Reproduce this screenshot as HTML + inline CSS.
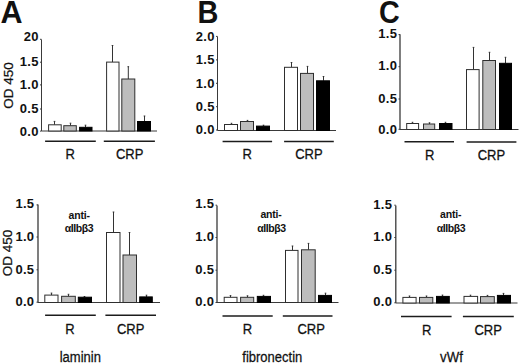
<!DOCTYPE html><html><head><meta charset="utf-8"><style>html,body{margin:0;padding:0;background:#fff;}svg{display:block;}text{font-family:"Liberation Sans", sans-serif;fill:#111;}</style></head><body>
<svg width="520" height="364" viewBox="0 0 520 364">
<rect x="0" y="0" width="520" height="364" fill="#fff"/>
<text x="0.60" y="23.40" font-size="30.5" font-weight="bold" text-anchor="start" >A</text>
<text x="0" y="0" font-size="30.5" font-weight="bold" text-anchor="start"  transform="translate(197.40,23.30) scale(0.95,1.0)">B</text>
<text x="0" y="0" font-size="30.5" font-weight="bold" text-anchor="start"  transform="translate(378.90,23.20) scale(0.94,1.0)">C</text>
<text x="0" y="0" font-size="13.5" text-anchor="middle" stroke="#111" stroke-width="0.25" transform="translate(13.3,85.4) rotate(-90)">OD 450</text>
<text x="0" y="0" font-size="13.5" text-anchor="middle" stroke="#111" stroke-width="0.25" transform="translate(12.1,253.1) rotate(-90)">OD 450</text>
<line x1="41.50" y1="39.50" x2="41.50" y2="131.00" stroke="#3a3a3a" stroke-width="1.0"/>
<line x1="41.50" y1="131.00" x2="157.00" y2="131.00" stroke="#3a3a3a" stroke-width="1"/>
<line x1="40.00" y1="39.30" x2="41.50" y2="39.30" stroke="#3a3a3a" stroke-width="1"/>
<text x="0" y="0" font-size="13" font-weight="bold" text-anchor="end" letter-spacing="0.3" transform="translate(38.70,41.30) scale(1.0,1.04)">20</text>
<line x1="40.00" y1="62.20" x2="41.50" y2="62.20" stroke="#3a3a3a" stroke-width="1"/>
<text x="0" y="0" font-size="13" font-weight="bold" text-anchor="end" letter-spacing="0.3" transform="translate(38.70,65.50) scale(1.0,1.04)">1.5</text>
<line x1="40.00" y1="84.90" x2="41.50" y2="84.90" stroke="#3a3a3a" stroke-width="1"/>
<text x="0" y="0" font-size="13" font-weight="bold" text-anchor="end" letter-spacing="0.3" transform="translate(38.70,88.70) scale(1.0,1.04)">1.0</text>
<line x1="40.00" y1="109.00" x2="41.50" y2="109.00" stroke="#3a3a3a" stroke-width="1"/>
<text x="0" y="0" font-size="13" font-weight="bold" text-anchor="end" letter-spacing="0.3" transform="translate(38.70,113.40) scale(1.0,1.04)">0.5</text>
<line x1="40.00" y1="131.10" x2="41.50" y2="131.10" stroke="#3a3a3a" stroke-width="1"/>
<text x="0" y="0" font-size="13" font-weight="bold" text-anchor="end" letter-spacing="0.3" transform="translate(38.70,136.00) scale(1.0,1.04)">0.0</text>
<line x1="54.50" y1="121.40" x2="54.50" y2="124.80" stroke="#333" stroke-width="1"/>
<line x1="53.70" y1="121.40" x2="55.30" y2="121.40" stroke="#333" stroke-width="1"/>
<rect x="48.60" y="124.80" width="12.60" height="6.20" fill="#fff" stroke="#2e2e2e" stroke-width="1.0"/>
<line x1="70.50" y1="123.20" x2="70.50" y2="125.70" stroke="#333" stroke-width="1"/>
<line x1="69.70" y1="123.20" x2="71.30" y2="123.20" stroke="#333" stroke-width="1"/>
<rect x="63.80" y="125.70" width="12.50" height="5.30" fill="#bdbdbd" stroke="#2e2e2e" stroke-width="1.0"/>
<line x1="85.50" y1="125.20" x2="85.50" y2="127.30" stroke="#333" stroke-width="1"/>
<line x1="84.70" y1="125.20" x2="86.30" y2="125.20" stroke="#333" stroke-width="1"/>
<rect x="79.60" y="127.30" width="12.40" height="3.70" fill="#000" stroke="#000" stroke-width="1.0"/>
<line x1="112.50" y1="45.50" x2="112.50" y2="62.10" stroke="#333" stroke-width="1"/>
<line x1="111.70" y1="45.50" x2="113.30" y2="45.50" stroke="#333" stroke-width="1"/>
<rect x="106.60" y="62.10" width="12.40" height="68.90" fill="#fff" stroke="#2e2e2e" stroke-width="1.0"/>
<line x1="128.30" y1="66.70" x2="128.30" y2="79.00" stroke="#333" stroke-width="1"/>
<line x1="127.50" y1="66.70" x2="129.10" y2="66.70" stroke="#333" stroke-width="1"/>
<rect x="121.80" y="79.00" width="13.00" height="52.00" fill="#bdbdbd" stroke="#2e2e2e" stroke-width="1.0"/>
<line x1="144.50" y1="116.00" x2="144.50" y2="121.50" stroke="#333" stroke-width="1"/>
<line x1="143.70" y1="116.00" x2="145.30" y2="116.00" stroke="#333" stroke-width="1"/>
<rect x="137.50" y="121.50" width="13.00" height="9.50" fill="#000" stroke="#000" stroke-width="1.0"/>
<line x1="45.10" y1="141.20" x2="95.80" y2="141.20" stroke="#1c1c1c" stroke-width="1.5"/>
<text x="0" y="0" font-size="13" font-weight="normal" text-anchor="middle" stroke="#111" stroke-width="0.25" transform="translate(70.20,159.10) scale(1.0,1.07)">R</text>
<line x1="103.80" y1="141.20" x2="154.90" y2="141.20" stroke="#1c1c1c" stroke-width="1.5"/>
<text x="0" y="0" font-size="13" font-weight="normal" text-anchor="middle" stroke="#111" stroke-width="0.25" transform="translate(129.60,159.10) scale(1.0,1.07)">CRP</text>
<line x1="217.50" y1="36.50" x2="217.50" y2="130.50" stroke="#3a3a3a" stroke-width="1.0"/>
<line x1="217.50" y1="130.50" x2="336.00" y2="130.50" stroke="#3a3a3a" stroke-width="1"/>
<line x1="216.00" y1="36.40" x2="217.50" y2="36.40" stroke="#3a3a3a" stroke-width="1"/>
<text x="0" y="0" font-size="13" font-weight="bold" text-anchor="end" letter-spacing="0.3" transform="translate(214.70,40.50) scale(1.0,1.04)">2.0</text>
<line x1="216.00" y1="59.90" x2="217.50" y2="59.90" stroke="#3a3a3a" stroke-width="1"/>
<text x="0" y="0" font-size="13" font-weight="bold" text-anchor="end" letter-spacing="0.3" transform="translate(214.70,64.10) scale(1.0,1.04)">1.5</text>
<line x1="216.00" y1="83.30" x2="217.50" y2="83.30" stroke="#3a3a3a" stroke-width="1"/>
<text x="0" y="0" font-size="13" font-weight="bold" text-anchor="end" letter-spacing="0.3" transform="translate(214.70,87.70) scale(1.0,1.04)">1.0</text>
<line x1="216.00" y1="106.70" x2="217.50" y2="106.70" stroke="#3a3a3a" stroke-width="1"/>
<text x="0" y="0" font-size="13" font-weight="bold" text-anchor="end" letter-spacing="0.3" transform="translate(214.70,111.30) scale(1.0,1.04)">0.5</text>
<line x1="216.00" y1="130.00" x2="217.50" y2="130.00" stroke="#3a3a3a" stroke-width="1"/>
<text x="0" y="0" font-size="13" font-weight="bold" text-anchor="end" letter-spacing="0.3" transform="translate(214.70,134.40) scale(1.0,1.04)">0.0</text>
<line x1="231.50" y1="123.30" x2="231.50" y2="124.50" stroke="#333" stroke-width="1"/>
<line x1="230.70" y1="123.30" x2="232.30" y2="123.30" stroke="#333" stroke-width="1"/>
<rect x="224.50" y="124.50" width="13.00" height="6.00" fill="#fff" stroke="#2e2e2e" stroke-width="1.0"/>
<line x1="247.50" y1="120.40" x2="247.50" y2="121.50" stroke="#333" stroke-width="1"/>
<line x1="246.70" y1="120.40" x2="248.30" y2="120.40" stroke="#333" stroke-width="1"/>
<rect x="240.50" y="121.50" width="13.00" height="9.00" fill="#bdbdbd" stroke="#2e2e2e" stroke-width="1.0"/>
<line x1="263.50" y1="125.20" x2="263.50" y2="126.10" stroke="#333" stroke-width="1"/>
<line x1="262.70" y1="125.20" x2="264.30" y2="125.20" stroke="#333" stroke-width="1"/>
<rect x="256.50" y="126.10" width="13.00" height="4.40" fill="#000" stroke="#000" stroke-width="1.0"/>
<line x1="291.50" y1="62.50" x2="291.50" y2="67.30" stroke="#333" stroke-width="1"/>
<line x1="290.70" y1="62.50" x2="292.30" y2="62.50" stroke="#333" stroke-width="1"/>
<rect x="284.50" y="67.30" width="13.00" height="63.20" fill="#fff" stroke="#2e2e2e" stroke-width="1.0"/>
<line x1="307.50" y1="66.40" x2="307.50" y2="73.40" stroke="#333" stroke-width="1"/>
<line x1="306.70" y1="66.40" x2="308.30" y2="66.40" stroke="#333" stroke-width="1"/>
<rect x="300.50" y="73.40" width="13.00" height="57.10" fill="#bdbdbd" stroke="#2e2e2e" stroke-width="1.0"/>
<line x1="323.50" y1="76.50" x2="323.50" y2="80.80" stroke="#333" stroke-width="1"/>
<line x1="322.70" y1="76.50" x2="324.30" y2="76.50" stroke="#333" stroke-width="1"/>
<rect x="316.50" y="80.80" width="13.00" height="49.70" fill="#000" stroke="#000" stroke-width="1.0"/>
<line x1="222.60" y1="141.50" x2="272.10" y2="141.50" stroke="#1c1c1c" stroke-width="1.5"/>
<text x="0" y="0" font-size="13" font-weight="normal" text-anchor="middle" stroke="#111" stroke-width="0.25" transform="translate(247.20,159.20) scale(1.0,1.07)">R</text>
<line x1="284.10" y1="141.50" x2="333.80" y2="141.50" stroke="#1c1c1c" stroke-width="1.5"/>
<text x="0" y="0" font-size="13" font-weight="normal" text-anchor="middle" stroke="#111" stroke-width="0.25" transform="translate(308.90,159.20) scale(1.0,1.07)">CRP</text>
<line x1="400.00" y1="34.30" x2="400.00" y2="129.50" stroke="#3a3a3a" stroke-width="1.3"/>
<line x1="400.00" y1="129.50" x2="518.50" y2="129.50" stroke="#3a3a3a" stroke-width="1"/>
<line x1="398.50" y1="34.60" x2="400.00" y2="34.60" stroke="#3a3a3a" stroke-width="1"/>
<text x="0" y="0" font-size="13" font-weight="bold" text-anchor="end" letter-spacing="0.3" transform="translate(397.20,38.20) scale(1.0,1.04)">1.5</text>
<line x1="398.50" y1="66.70" x2="400.00" y2="66.70" stroke="#3a3a3a" stroke-width="1"/>
<text x="0" y="0" font-size="13" font-weight="bold" text-anchor="end" letter-spacing="0.3" transform="translate(397.20,70.40) scale(1.0,1.04)">1.0</text>
<line x1="398.50" y1="99.00" x2="400.00" y2="99.00" stroke="#3a3a3a" stroke-width="1"/>
<text x="0" y="0" font-size="13" font-weight="bold" text-anchor="end" letter-spacing="0.3" transform="translate(397.20,102.60) scale(1.0,1.04)">0.5</text>
<line x1="398.50" y1="129.30" x2="400.00" y2="129.30" stroke="#3a3a3a" stroke-width="1"/>
<text x="0" y="0" font-size="13" font-weight="bold" text-anchor="end" letter-spacing="0.3" transform="translate(397.20,133.90) scale(1.0,1.04)">0.0</text>
<line x1="412.50" y1="122.30" x2="412.50" y2="123.50" stroke="#333" stroke-width="1"/>
<line x1="411.70" y1="122.30" x2="413.30" y2="122.30" stroke="#333" stroke-width="1"/>
<rect x="406.70" y="123.50" width="11.90" height="6.00" fill="#fff" stroke="#2e2e2e" stroke-width="1.0"/>
<line x1="429.50" y1="122.80" x2="429.50" y2="124.00" stroke="#333" stroke-width="1"/>
<line x1="428.70" y1="122.80" x2="430.30" y2="122.80" stroke="#333" stroke-width="1"/>
<rect x="423.50" y="124.00" width="11.20" height="5.50" fill="#bdbdbd" stroke="#2e2e2e" stroke-width="1.0"/>
<line x1="445.50" y1="122.30" x2="445.50" y2="123.50" stroke="#333" stroke-width="1"/>
<line x1="444.70" y1="122.30" x2="446.30" y2="122.30" stroke="#333" stroke-width="1"/>
<rect x="439.50" y="123.50" width="12.50" height="6.00" fill="#000" stroke="#000" stroke-width="1.0"/>
<line x1="473.50" y1="47.40" x2="473.50" y2="69.60" stroke="#333" stroke-width="1"/>
<line x1="472.70" y1="47.40" x2="474.30" y2="47.40" stroke="#333" stroke-width="1"/>
<rect x="466.50" y="69.60" width="12.60" height="59.90" fill="#fff" stroke="#2e2e2e" stroke-width="1.0"/>
<line x1="489.50" y1="52.30" x2="489.50" y2="60.50" stroke="#333" stroke-width="1"/>
<line x1="488.70" y1="52.30" x2="490.30" y2="52.30" stroke="#333" stroke-width="1"/>
<rect x="482.80" y="60.50" width="12.70" height="69.00" fill="#bdbdbd" stroke="#2e2e2e" stroke-width="1.0"/>
<line x1="505.50" y1="57.30" x2="505.50" y2="63.30" stroke="#333" stroke-width="1"/>
<line x1="504.70" y1="57.30" x2="506.30" y2="57.30" stroke="#333" stroke-width="1"/>
<rect x="499.50" y="63.30" width="12.00" height="66.20" fill="#000" stroke="#000" stroke-width="1.0"/>
<line x1="404.50" y1="141.80" x2="454.00" y2="141.80" stroke="#1c1c1c" stroke-width="1.5"/>
<text x="0" y="0" font-size="13" font-weight="normal" text-anchor="middle" stroke="#111" stroke-width="0.25" transform="translate(429.60,159.80) scale(1.0,1.07)">R</text>
<line x1="466.60" y1="141.90" x2="516.40" y2="141.90" stroke="#1c1c1c" stroke-width="1.5"/>
<text x="0" y="0" font-size="13" font-weight="normal" text-anchor="middle" stroke="#111" stroke-width="0.25" transform="translate(491.40,159.80) scale(1.0,1.07)">CRP</text>
<line x1="38.00" y1="204.50" x2="38.00" y2="302.50" stroke="#3a3a3a" stroke-width="1.3"/>
<line x1="38.00" y1="302.50" x2="160.00" y2="302.50" stroke="#3a3a3a" stroke-width="1"/>
<line x1="36.50" y1="204.90" x2="38.00" y2="204.90" stroke="#3a3a3a" stroke-width="1"/>
<text x="0" y="0" font-size="13" font-weight="bold" text-anchor="end" letter-spacing="0.3" transform="translate(34.40,208.00) scale(1.0,1.04)">1.5</text>
<line x1="36.50" y1="237.00" x2="38.00" y2="237.00" stroke="#3a3a3a" stroke-width="1"/>
<text x="0" y="0" font-size="13" font-weight="bold" text-anchor="end" letter-spacing="0.3" transform="translate(34.40,240.70) scale(1.0,1.04)">1.0</text>
<line x1="36.50" y1="269.80" x2="38.00" y2="269.80" stroke="#3a3a3a" stroke-width="1"/>
<text x="0" y="0" font-size="13" font-weight="bold" text-anchor="end" letter-spacing="0.3" transform="translate(34.40,273.90) scale(1.0,1.04)">0.5</text>
<line x1="36.50" y1="302.20" x2="38.00" y2="302.20" stroke="#3a3a3a" stroke-width="1"/>
<text x="0" y="0" font-size="13" font-weight="bold" text-anchor="end" letter-spacing="0.3" transform="translate(34.40,305.60) scale(1.0,1.04)">0.0</text>
<line x1="51.50" y1="293.10" x2="51.50" y2="295.10" stroke="#333" stroke-width="1"/>
<line x1="50.70" y1="293.10" x2="52.30" y2="293.10" stroke="#333" stroke-width="1"/>
<rect x="44.80" y="295.10" width="13.20" height="7.40" fill="#fff" stroke="#2e2e2e" stroke-width="1.0"/>
<line x1="68.50" y1="294.30" x2="68.50" y2="296.30" stroke="#333" stroke-width="1"/>
<line x1="67.70" y1="294.30" x2="69.30" y2="294.30" stroke="#333" stroke-width="1"/>
<rect x="61.60" y="296.30" width="13.70" height="6.20" fill="#bdbdbd" stroke="#2e2e2e" stroke-width="1.0"/>
<line x1="84.50" y1="296.50" x2="84.50" y2="297.20" stroke="#333" stroke-width="1"/>
<line x1="83.70" y1="296.50" x2="85.30" y2="296.50" stroke="#333" stroke-width="1"/>
<rect x="78.30" y="297.20" width="13.20" height="5.30" fill="#000" stroke="#000" stroke-width="1.0"/>
<line x1="113.50" y1="212.00" x2="113.50" y2="232.50" stroke="#333" stroke-width="1"/>
<line x1="112.70" y1="212.00" x2="114.30" y2="212.00" stroke="#333" stroke-width="1"/>
<rect x="106.50" y="232.50" width="13.50" height="70.00" fill="#fff" stroke="#2e2e2e" stroke-width="1.0"/>
<line x1="129.50" y1="232.50" x2="129.50" y2="255.00" stroke="#333" stroke-width="1"/>
<line x1="128.70" y1="232.50" x2="130.30" y2="232.50" stroke="#333" stroke-width="1"/>
<rect x="123.00" y="255.00" width="13.50" height="47.50" fill="#bdbdbd" stroke="#2e2e2e" stroke-width="1.0"/>
<line x1="146.50" y1="295.20" x2="146.50" y2="296.90" stroke="#333" stroke-width="1"/>
<line x1="145.70" y1="295.20" x2="147.30" y2="295.20" stroke="#333" stroke-width="1"/>
<rect x="139.70" y="296.90" width="12.60" height="5.60" fill="#000" stroke="#000" stroke-width="1.0"/>
<line x1="45.10" y1="315.20" x2="95.80" y2="315.20" stroke="#1c1c1c" stroke-width="1.5"/>
<text x="0" y="0" font-size="13" font-weight="normal" text-anchor="middle" stroke="#111" stroke-width="0.25" transform="translate(70.00,333.50) scale(1.0,1.07)">R</text>
<line x1="105.40" y1="315.20" x2="156.00" y2="315.20" stroke="#1c1c1c" stroke-width="1.5"/>
<text x="0" y="0" font-size="13" font-weight="normal" text-anchor="middle" stroke="#111" stroke-width="0.25" transform="translate(130.60,333.50) scale(1.0,1.07)">CRP</text>
<text x="79.20" y="218.50" font-size="10.5" font-weight="bold" text-anchor="middle" letter-spacing="-0.2">anti-</text>
<text x="79.00" y="232.00" font-size="10.5" font-weight="bold" text-anchor="middle" letter-spacing="-0.45">&#945;IIb&#946;3</text>
<text x="0" y="0" font-size="13.5" font-weight="normal" text-anchor="middle" stroke="#111" stroke-width="0.25" transform="translate(80.30,361.80) scale(0.965,1.07)">laminin</text>
<line x1="217.00" y1="205.50" x2="217.00" y2="302.50" stroke="#3a3a3a" stroke-width="1.3"/>
<line x1="217.00" y1="302.50" x2="338.50" y2="302.50" stroke="#3a3a3a" stroke-width="1"/>
<line x1="215.50" y1="205.20" x2="217.00" y2="205.20" stroke="#3a3a3a" stroke-width="1"/>
<text x="0" y="0" font-size="13" font-weight="bold" text-anchor="end" letter-spacing="0.3" transform="translate(214.20,208.00) scale(1.0,1.04)">1.5</text>
<line x1="215.50" y1="237.50" x2="217.00" y2="237.50" stroke="#3a3a3a" stroke-width="1"/>
<text x="0" y="0" font-size="13" font-weight="bold" text-anchor="end" letter-spacing="0.3" transform="translate(214.20,241.00) scale(1.0,1.04)">1.0</text>
<line x1="215.50" y1="270.20" x2="217.00" y2="270.20" stroke="#3a3a3a" stroke-width="1"/>
<text x="0" y="0" font-size="13" font-weight="bold" text-anchor="end" letter-spacing="0.3" transform="translate(214.20,273.90) scale(1.0,1.04)">0.5</text>
<line x1="215.50" y1="302.50" x2="217.00" y2="302.50" stroke="#3a3a3a" stroke-width="1"/>
<text x="0" y="0" font-size="13" font-weight="bold" text-anchor="end" letter-spacing="0.3" transform="translate(214.20,305.90) scale(1.0,1.04)">0.0</text>
<line x1="230.50" y1="295.60" x2="230.50" y2="297.30" stroke="#333" stroke-width="1"/>
<line x1="229.70" y1="295.60" x2="231.30" y2="295.60" stroke="#333" stroke-width="1"/>
<rect x="224.20" y="297.30" width="12.80" height="5.20" fill="#fff" stroke="#2e2e2e" stroke-width="1.0"/>
<line x1="247.50" y1="295.80" x2="247.50" y2="297.30" stroke="#333" stroke-width="1"/>
<line x1="246.70" y1="295.80" x2="248.30" y2="295.80" stroke="#333" stroke-width="1"/>
<rect x="240.60" y="297.30" width="13.10" height="5.20" fill="#bdbdbd" stroke="#2e2e2e" stroke-width="1.0"/>
<line x1="263.50" y1="295.30" x2="263.50" y2="296.40" stroke="#333" stroke-width="1"/>
<line x1="262.70" y1="295.30" x2="264.30" y2="295.30" stroke="#333" stroke-width="1"/>
<rect x="257.30" y="296.40" width="13.20" height="6.10" fill="#000" stroke="#000" stroke-width="1.0"/>
<line x1="292.50" y1="246.00" x2="292.50" y2="250.40" stroke="#333" stroke-width="1"/>
<line x1="291.70" y1="246.00" x2="293.30" y2="246.00" stroke="#333" stroke-width="1"/>
<rect x="285.50" y="250.40" width="12.50" height="52.10" fill="#fff" stroke="#2e2e2e" stroke-width="1.0"/>
<line x1="308.50" y1="243.40" x2="308.50" y2="249.80" stroke="#333" stroke-width="1"/>
<line x1="307.70" y1="243.40" x2="309.30" y2="243.40" stroke="#333" stroke-width="1"/>
<rect x="301.50" y="249.80" width="13.70" height="52.70" fill="#bdbdbd" stroke="#2e2e2e" stroke-width="1.0"/>
<line x1="325.50" y1="293.20" x2="325.50" y2="295.40" stroke="#333" stroke-width="1"/>
<line x1="324.70" y1="293.20" x2="326.30" y2="293.20" stroke="#333" stroke-width="1"/>
<rect x="318.50" y="295.40" width="13.00" height="7.10" fill="#000" stroke="#000" stroke-width="1.0"/>
<line x1="222.50" y1="315.90" x2="272.70" y2="315.90" stroke="#1c1c1c" stroke-width="1.5"/>
<text x="0" y="0" font-size="13" font-weight="normal" text-anchor="middle" stroke="#111" stroke-width="0.25" transform="translate(247.50,333.80) scale(1.0,1.07)">R</text>
<line x1="282.80" y1="315.90" x2="332.50" y2="315.90" stroke="#1c1c1c" stroke-width="1.5"/>
<text x="0" y="0" font-size="13" font-weight="normal" text-anchor="middle" stroke="#111" stroke-width="0.25" transform="translate(311.10,333.80) scale(1.0,1.07)">CRP</text>
<text x="271.05" y="218.30" font-size="10.5" font-weight="bold" text-anchor="middle" letter-spacing="-0.2">anti-</text>
<text x="271.40" y="231.70" font-size="10.5" font-weight="bold" text-anchor="middle" letter-spacing="-0.45">&#945;IIb&#946;3</text>
<text x="0" y="0" font-size="13.5" font-weight="normal" text-anchor="middle" stroke="#111" stroke-width="0.25" transform="translate(272.30,362.30) scale(0.965,1.07)">fibronectin</text>
<line x1="395.80" y1="205.40" x2="395.80" y2="303.00" stroke="#3a3a3a" stroke-width="1.3"/>
<line x1="395.80" y1="303.00" x2="517.50" y2="303.00" stroke="#3a3a3a" stroke-width="1"/>
<line x1="394.30" y1="205.20" x2="395.80" y2="205.20" stroke="#3a3a3a" stroke-width="1"/>
<text x="0" y="0" font-size="13" font-weight="bold" text-anchor="end" letter-spacing="0.3" transform="translate(392.20,208.50) scale(1.0,1.04)">1.5</text>
<line x1="394.30" y1="237.50" x2="395.80" y2="237.50" stroke="#3a3a3a" stroke-width="1"/>
<text x="0" y="0" font-size="13" font-weight="bold" text-anchor="end" letter-spacing="0.3" transform="translate(392.20,241.00) scale(1.0,1.04)">1.0</text>
<line x1="394.30" y1="270.20" x2="395.80" y2="270.20" stroke="#3a3a3a" stroke-width="1"/>
<text x="0" y="0" font-size="13" font-weight="bold" text-anchor="end" letter-spacing="0.3" transform="translate(392.20,273.90) scale(1.0,1.04)">0.5</text>
<line x1="394.30" y1="302.80" x2="395.80" y2="302.80" stroke="#3a3a3a" stroke-width="1"/>
<text x="0" y="0" font-size="13" font-weight="bold" text-anchor="end" letter-spacing="0.3" transform="translate(392.20,305.90) scale(1.0,1.04)">0.0</text>
<line x1="409.50" y1="296.00" x2="409.50" y2="297.40" stroke="#333" stroke-width="1"/>
<line x1="408.70" y1="296.00" x2="410.30" y2="296.00" stroke="#333" stroke-width="1"/>
<rect x="402.90" y="297.40" width="13.20" height="5.60" fill="#fff" stroke="#2e2e2e" stroke-width="1.0"/>
<line x1="426.50" y1="296.00" x2="426.50" y2="297.40" stroke="#333" stroke-width="1"/>
<line x1="425.70" y1="296.00" x2="427.30" y2="296.00" stroke="#333" stroke-width="1"/>
<rect x="419.50" y="297.40" width="13.30" height="5.60" fill="#bdbdbd" stroke="#2e2e2e" stroke-width="1.0"/>
<line x1="442.50" y1="295.10" x2="442.50" y2="296.40" stroke="#333" stroke-width="1"/>
<line x1="441.70" y1="295.10" x2="443.30" y2="295.10" stroke="#333" stroke-width="1"/>
<rect x="436.50" y="296.40" width="12.80" height="6.60" fill="#000" stroke="#000" stroke-width="1.0"/>
<line x1="470.50" y1="295.20" x2="470.50" y2="296.40" stroke="#333" stroke-width="1"/>
<line x1="469.70" y1="295.20" x2="471.30" y2="295.20" stroke="#333" stroke-width="1"/>
<rect x="464.00" y="296.40" width="13.60" height="6.60" fill="#fff" stroke="#2e2e2e" stroke-width="1.0"/>
<line x1="487.50" y1="295.40" x2="487.50" y2="296.60" stroke="#333" stroke-width="1"/>
<line x1="486.70" y1="295.40" x2="488.30" y2="295.40" stroke="#333" stroke-width="1"/>
<rect x="480.50" y="296.60" width="13.80" height="6.40" fill="#bdbdbd" stroke="#2e2e2e" stroke-width="1.0"/>
<line x1="503.50" y1="293.40" x2="503.50" y2="295.40" stroke="#333" stroke-width="1"/>
<line x1="502.70" y1="293.40" x2="504.30" y2="293.40" stroke="#333" stroke-width="1"/>
<rect x="497.40" y="295.40" width="13.10" height="7.60" fill="#000" stroke="#000" stroke-width="1.0"/>
<line x1="401.00" y1="316.40" x2="451.60" y2="316.40" stroke="#1c1c1c" stroke-width="1.5"/>
<text x="0" y="0" font-size="13" font-weight="normal" text-anchor="middle" stroke="#111" stroke-width="0.25" transform="translate(426.80,334.90) scale(1.0,1.07)">R</text>
<line x1="462.90" y1="316.40" x2="513.80" y2="316.40" stroke="#1c1c1c" stroke-width="1.5"/>
<text x="0" y="0" font-size="13" font-weight="normal" text-anchor="middle" stroke="#111" stroke-width="0.25" transform="translate(488.20,334.90) scale(1.0,1.07)">CRP</text>
<text x="450.70" y="218.30" font-size="10.5" font-weight="bold" text-anchor="middle" letter-spacing="-0.2">anti-</text>
<text x="451.00" y="231.70" font-size="10.5" font-weight="bold" text-anchor="middle" letter-spacing="-0.45">&#945;IIb&#946;3</text>
<text x="0" y="0" font-size="13.5" font-weight="normal" text-anchor="middle" stroke="#111" stroke-width="0.25" transform="translate(451.50,362.40) scale(0.98,1.07)">vWf</text>
</svg></body></html>
